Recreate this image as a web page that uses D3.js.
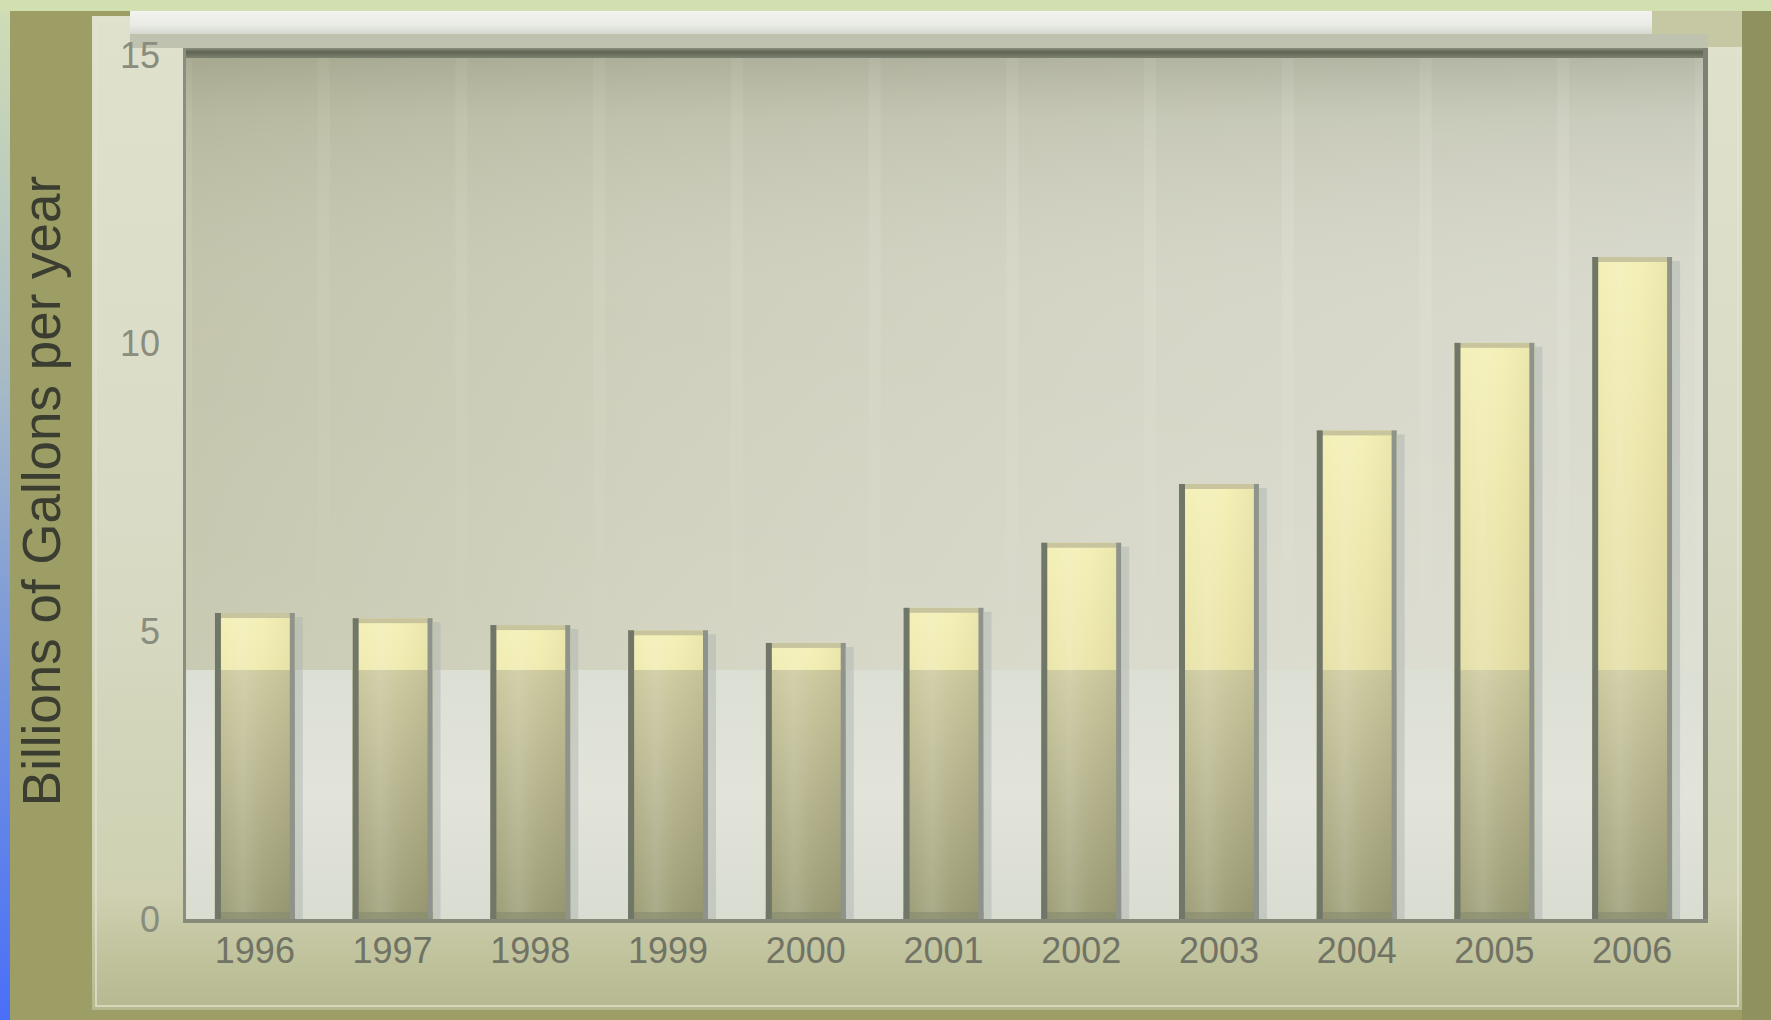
<!DOCTYPE html>
<html>
<head>
<meta charset="utf-8">
<script src="https://cdn.jsdelivr.net/npm/d3@7"></script>
<style>
html,body{margin:0;padding:0;background:#9d9e66;overflow:hidden}
svg{display:block}
</style>
</head>
<body>
<svg id="chart" width="1771" height="1020"></svg>
<script>
// ---- data ----
const years = ["1996","1997","1998","1999","2000","2001","2002","2003","2004","2005","2006"];
const gallons = [5.33, 5.24, 5.12, 5.03, 4.81, 5.42, 6.55, 7.57, 8.50, 10.02, 11.51];
const yTickValues = [0, 5, 10, 15];
const yAxisTitle = "Billions of Gallons per year";

// ---- layout ----
const W = 1771, H = 1020;
const plotL = 183, plotR = 1708, plotT = 48, baseY = 920, yBreak = 670;
const FONT = "'Liberation Sans', Arial, Helvetica, sans-serif";

const svg = d3.select("#chart");
const defs = svg.append("defs");

function grad(id, x1, y1, x2, y2, stops, units) {
  const g = defs.append("linearGradient").attr("id", id)
    .attr("x1", x1).attr("y1", y1).attr("x2", x2).attr("y2", y2);
  if (units) g.attr("gradientUnits", units);
  stops.forEach(s => g.append("stop").attr("offset", s[0]).attr("stop-color", s[1])
    .attr("stop-opacity", s[2] === undefined ? 1 : s[2]));
}
grad("leftStrip", 0, 0, 0, 1, [[0, "#cfdcb6"], [0.35, "#a9bcc4"], [0.7, "#6f8fe0"], [1, "#4a6ff8"]]);
grad("panel", 0, 0, 0, 1, [[0, "#e0e1cd"], [0.5, "#d9dbc6"], [0.88, "#cfd1b2"], [0.95, "#c0c29c"], [1, "#b6b890"]]);
grad("topStrip", 0, 0, 0, 1, [[0, "#f2f3f0"], [0.6, "#e9ebe6"], [1, "#d5d8cf"]]);
grad("darkLine", 0, 0, 0, 1, [[0, "#8c907e"], [0.4, "#5f6552"], [1, "#7e8270"]]);
grad("plotH", 0, 0, 1, 0, [[0, "#c4c5ab"], [0.3, "#cfd0bc"], [0.6, "#d6d7c7"], [1, "#dcddd1"]]);
grad("plotV", 0, 0, 0, 1, [[0, "#6f735c", 0.35], [0.08, "#8a8e76", 0.15], [0.3, "#ffffff", 0.05], [1, "#ffffff", 0.12]]);
grad("lowerBg", 0, 0, 0, 1, [[0, "#dcdfd3"], [0.5, "#e2e4da"], [1, "#d9dcd0"]]);
grad("colShade", 0, 0, 0, 1, [[0, "#5a5e40", 0.05], [0.6, "#5a5e40", 0.02], [1, "#5a5e40", 0.0]]);
grad("barTop", 0, 0, 0, 1, [[0, "#f3efb3"], [0.3, "#ece6a9"], [1, "#d8d39e"]]);
grad("barLow", 0, yBreak, 0, baseY, [[0, "#cbc89c"], [0.5, "#b3b189"], [1, "#999a72"]], "userSpaceOnUse");
grad("barShine", 0, 0, 1, 0, [[0, "#ffffff", 0], [0.35, "#ffffff", 0.16], [0.6, "#ffffff", 0.04], [1, "#000000", 0.04]]);

// ---- background / frame ----
svg.append("rect").attr("width", W).attr("height", H).attr("fill", "#9d9e66");
svg.append("rect").attr("x", 1742).attr("y", 0).attr("width", W - 1742).attr("height", H).attr("fill", "#8f915e");
svg.append("rect").attr("x", 0).attr("y", 0).attr("width", W).attr("height", 11).attr("fill", "#d2dfb1");
svg.append("rect").attr("x", 0).attr("y", 11).attr("width", 10).attr("height", H - 11).attr("fill", "url(#leftStrip)");
svg.append("rect").attr("x", 92).attr("y", 16).attr("width", 1650).attr("height", 994).attr("fill", "url(#panel)");
svg.append("rect").attr("x", 96).attr("y", 20).attr("width", 1642).attr("height", 986)
  .attr("fill", "none").attr("stroke", "#e2e4d0").attr("stroke-width", 2).attr("opacity", 0.7);
svg.append("rect").attr("x", 1652).attr("y", 11).attr("width", 90).attr("height", 36).attr("fill", "#c6c7a3");
svg.append("rect").attr("x", 130).attr("y", 11).attr("width", 1522).attr("height", 23).attr("fill", "url(#topStrip)");
svg.append("rect").attr("x", 130).attr("y", 34).attr("width", 1578).attr("height", 14).attr("fill", "#bfc2ae");

// ---- plot area background ----
svg.append("rect").attr("x", plotL).attr("y", plotT).attr("width", plotR - plotL).attr("height", baseY - plotT).attr("fill", "url(#plotH)");
svg.append("rect").attr("x", plotL).attr("y", plotT).attr("width", plotR - plotL).attr("height", baseY - plotT).attr("fill", "url(#plotV)");

// ---- scales ----
const x = d3.scaleBand().domain(years).range([186, 1701]).paddingInner(0.42).paddingOuter(0.21);
const y = d3.scaleLinear().domain([0, 15]).range([baseY, 56]);
const bw = x.bandwidth(), step = x.step();

// subtle column shading above the break
svg.append("g").selectAll("rect").data(years).join("rect")
  .attr("x", d => x(d) + bw / 2 - step / 2 + 6).attr("y", plotT + 10)
  .attr("width", step - 12).attr("height", yBreak - plotT - 10)
  .attr("fill", "url(#colShade)");

// lower lighter region
svg.append("rect").attr("x", plotL + 3).attr("y", yBreak).attr("width", plotR - plotL - 8)
  .attr("height", baseY - yBreak).attr("fill", "url(#lowerBg)");

// ---- bars ----
const data = years.map((yr, i) => ({ yr, v: gallons[i] }));
const bars = svg.append("g").selectAll("g").data(data).join("g");

bars.append("rect").attr("x", d => x(d.yr) + bw).attr("y", d => y(d.v) + 4)
  .attr("width", 8).attr("height", d => baseY - y(d.v) - 4).attr("fill", "#aeb5b1").attr("opacity", 0.5);
bars.append("rect").attr("x", d => x(d.yr)).attr("y", d => y(d.v))
  .attr("width", bw).attr("height", d => baseY - y(d.v)).attr("fill", "url(#barTop)");
bars.append("rect").attr("x", d => x(d.yr)).attr("y", d => Math.max(y(d.v), yBreak))
  .attr("width", bw).attr("height", d => baseY - Math.max(y(d.v), yBreak)).attr("fill", "url(#barLow)");
bars.append("rect").attr("x", d => x(d.yr)).attr("y", d => y(d.v))
  .attr("width", bw).attr("height", d => baseY - y(d.v)).attr("fill", "url(#barShine)");
bars.append("rect").attr("x", d => x(d.yr)).attr("y", d => y(d.v))
  .attr("width", bw).attr("height", 5).attr("fill", "#c8c49e");
bars.append("rect").attr("x", d => x(d.yr)).attr("y", baseY - 8)
  .attr("width", bw).attr("height", 8).attr("fill", "#878a6c").attr("opacity", 0.6);
bars.append("rect").attr("x", d => x(d.yr)).attr("y", d => y(d.v))
  .attr("width", 6).attr("height", d => baseY - y(d.v)).attr("fill", "#707668");
bars.append("rect").attr("x", d => x(d.yr) + bw - 5).attr("y", d => y(d.v))
  .attr("width", 5).attr("height", d => baseY - y(d.v)).attr("fill", "#8e948c");

// ---- frame lines ----
svg.append("rect").attr("x", plotL).attr("y", plotT).attr("width", plotR - plotL).attr("height", 10).attr("fill", "url(#darkLine)");
svg.append("rect").attr("x", plotL).attr("y", plotT).attr("width", 3).attr("height", baseY - plotT).attr("fill", "#8b8d7e");
svg.append("rect").attr("x", plotR - 5).attr("y", plotT).attr("width", 5).attr("height", baseY - plotT + 2).attr("fill", "#7c8174");
svg.append("rect").attr("x", plotL).attr("y", baseY - 1).attr("width", plotR - plotL).attr("height", 4).attr("fill", "#868a79");

// ---- axes ----
const yAxis = svg.append("g").attr("transform", `translate(${plotL},0)`)
  .call(d3.axisLeft(y).tickValues(yTickValues).tickSize(0).tickPadding(23).tickFormat(d3.format("d")));
yAxis.select(".domain").remove();
yAxis.selectAll("text").attr("font-family", FONT).attr("font-size", 36).attr("fill", "#8a8c7e");

const xAxis = svg.append("g").attr("transform", `translate(0,${baseY})`)
  .call(d3.axisBottom(x).tickSize(0).tickPadding(17));
xAxis.select(".domain").remove();
xAxis.selectAll("text").attr("font-family", FONT).attr("font-size", 36).attr("fill", "#717365");

// ---- axis title ----
svg.append("text").attr("transform", "translate(60,491) rotate(-90)")
  .attr("text-anchor", "middle").attr("font-family", FONT).attr("font-size", 53)
  .attr("fill", "#3a3d2f").text(yAxisTitle);
</script>
</body>
</html>
